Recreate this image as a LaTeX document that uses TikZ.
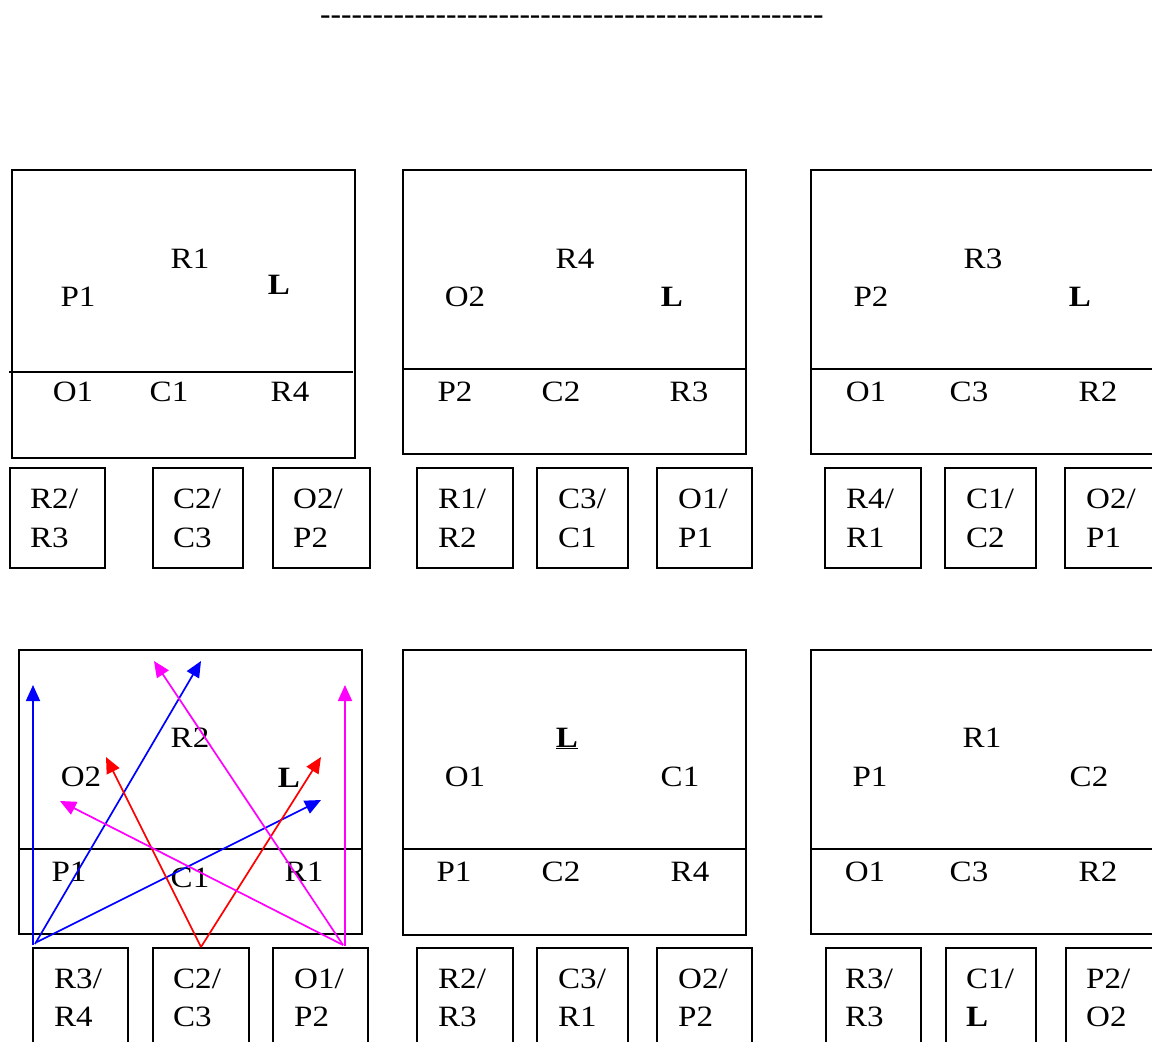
\documentclass[tikz,border=0pt]{standalone}
\usepackage{fontspec}
\setmainfont{Liberation Serif}[FakeStretch=1.12]
\newfontfamily\hyfont{Liberation Serif}
\usetikzlibrary{arrows.meta}
\definecolor{arrblue}{RGB}{0,0,255}
\definecolor{arrred}{RGB}{255,0,0}
\definecolor{arrmag}{RGB}{255,0,255}
\tikzset{
  panel/.style={draw, line width=1.7pt, anchor=north west, inner sep=0pt, outer sep=0pt},
  lbl/.style={inner sep=0pt, anchor=base, font=\fontsize{29.5}{34}\selectfont},
  slbl/.style={inner sep=0pt, anchor=base west, font=\fontsize{29.5}{34}\selectfont},
  divider/.style={line width=1.7pt},
  arr/.style={line width=1.7pt, -{Triangle[length=16pt,width=14pt]}},
}
\begin{document}
\begin{tikzpicture}[x=1pt,y=-1pt]
\useasboundingbox (0,0) rectangle (1152,1042);
\clip (0,0) rectangle (1152,1042);

% top hyphen line
\node[inner sep=0pt, anchor=base west, font=\hyfont\fontsize{31.5}{36}\selectfont] (hy) at (320,24)
 {-{}-{}-{}-{}-{}-{}-{}-{}-{}-{}-{}-{}-{}-{}-{}-{}-{}-{}-{}-{}-{}-{}-{}-{}-{}-{}-{}-{}-{}-{}-{}-{}-{}-{}-{}-{}-{}-{}-{}-{}-{}-{}-{}-{}-{}-{}-{}-};

% ===== Panel A (top left)
\node[panel, minimum width=343pt, minimum height=288pt] (pA) at (12,170) {};
\coordinate (dA1) at (9,372); \coordinate (dA2) at (353,372);
\draw[divider] (dA1) -- (dA2);
\node[lbl] (A1) at (190,268) {R1};
\node[lbl] (A2) at (78,306) {P1};
\node[lbl] (A3) at (279,294) {\textbf{L}};
\node[lbl] (A4) at (73,401) {O1};
\node[lbl] (A5) at (169,401) {C1};
\node[lbl] (A6) at (290,401) {R4};
\node[panel, minimum width=95pt, minimum height=100pt] (bA1) at (10,468) {};
\node[panel, minimum width=90pt, minimum height=100pt] (bA2) at (153,468) {};
\node[panel, minimum width=97pt, minimum height=100pt] (bA3) at (273,468) {};
\node[slbl] (tA1) at (30,508) {R2/};  \node[slbl] (tA1b) at (30,547) {R3};
\node[slbl] (tA2) at (173,508) {C2/}; \node[slbl] (tA2b) at (173,547) {C3};
\node[slbl] (tA3) at (293,508) {O2/}; \node[slbl] (tA3b) at (293,547) {P2};

% ===== Panel B (top middle)
\node[panel, minimum width=343pt, minimum height=284pt] (pB) at (403,170) {};
\coordinate (dB1) at (403,369); \coordinate (dB2) at (746,369);
\draw[divider] (dB1) -- (dB2);
\node[lbl] (B1) at (575,268) {R4};
\node[lbl] (B2) at (465,306) {O2};
\node[lbl] (B3) at (672,306) {\textbf{L}};
\node[lbl] (B4) at (455,401) {P2};
\node[lbl] (B5) at (561,401) {C2};
\node[lbl] (B6) at (689,401) {R3};
\node[panel, minimum width=96pt, minimum height=100pt] (bB1) at (417,468) {};
\node[panel, minimum width=91pt, minimum height=100pt] (bB2) at (537,468) {};
\node[panel, minimum width=95pt, minimum height=100pt] (bB3) at (657,468) {};
\node[slbl] (tB1) at (438,508) {R1/}; \node[slbl] (tB1b) at (438,547) {R2};
\node[slbl] (tB2) at (558,508) {C3/}; \node[slbl] (tB2b) at (558,547) {C1};
\node[slbl] (tB3) at (678,508) {O1/}; \node[slbl] (tB3b) at (678,547) {P1};

% ===== Panel C (top right)
\node[panel, minimum width=360pt, minimum height=284pt] (pC) at (811,170) {};
\coordinate (dC1) at (811,369); \coordinate (dC2) at (1171,369);
\draw[divider] (dC1) -- (dC2);
\node[lbl] (C1) at (983,268) {R3};
\node[lbl] (C2) at (871,306) {P2};
\node[lbl] (C3) at (1080,306) {\textbf{L}};
\node[lbl] (C4) at (866,401) {O1};
\node[lbl] (C5) at (969,401) {C3};
\node[lbl] (C6) at (1098,401) {R2};
\node[panel, minimum width=96pt, minimum height=100pt] (bC1) at (825,468) {};
\node[panel, minimum width=91pt, minimum height=100pt] (bC2) at (945,468) {};
\node[panel, minimum width=100pt, minimum height=100pt] (bC3) at (1065,468) {};
\node[slbl] (tC1) at (846,508) {R4/};  \node[slbl] (tC1b) at (846,547) {R1};
\node[slbl] (tC2) at (966,508) {C1/};  \node[slbl] (tC2b) at (966,547) {C2};
\node[slbl] (tC3) at (1086,508) {O2/}; \node[slbl] (tC3b) at (1086,547) {P1};

% ===== Panel D (bottom left)
\node[panel, minimum width=343pt, minimum height=284pt] (pD) at (19,650) {};
\coordinate (dD1) at (19,849); \coordinate (dD2) at (362,849);
\draw[divider] (dD1) -- (dD2);
\node[lbl] (D1) at (190,747) {R2};
\node[lbl] (D2) at (81,786) {O2};
\node[lbl] (D3) at (289,787) {\textbf{L}};
\node[lbl] (D4) at (69,881) {P1};
\node[lbl] (D5) at (190,887) {C1};
\node[lbl] (D6) at (304,881) {R1};
\node[panel, minimum width=95pt, minimum height=100pt] (bD1) at (33,948) {};
\node[panel, minimum width=96pt, minimum height=100pt] (bD2) at (153,948) {};
\node[panel, minimum width=95pt, minimum height=100pt] (bD3) at (273,948) {};
\node[slbl] (tD1) at (54,988) {R3/};  \node[slbl] (tD1b) at (54,1026) {R4};
\node[slbl] (tD2) at (173,988) {C2/}; \node[slbl] (tD2b) at (173,1026) {C3};
\node[slbl] (tD3) at (294,988) {O1/}; \node[slbl] (tD3b) at (294,1026) {P2};

% arrows
\coordinate (sb1) at (33,945);  \coordinate (eb1) at (33,685);
\coordinate (sb2) at (35,944);  \coordinate (eb2) at (201,661);
\coordinate (sb3) at (37,942);  \coordinate (eb3) at (321,800);
\coordinate (sr)  at (201,947); \coordinate (er1) at (106,757); \coordinate (er2) at (321,757);
\coordinate (sm1) at (345,946); \coordinate (em1) at (345,685);
\coordinate (sm2) at (343,945); \coordinate (em2) at (154,661);
\coordinate (em3) at (60,801);
\draw[arr, arrblue] (sb1) -- (eb1);
\draw[arr, arrblue] (sb2) -- (eb2);
\draw[arr, arrblue] (sb3) -- (eb3);
\draw[arr, arrred] (sr) -- (er1);
\draw[arr, arrred] (sr) -- (er2);
\draw[arr, arrmag] (sm1) -- (em1);
\draw[arr, arrmag] (sm2) -- (em2);
\draw[arr, arrmag] (sm2) -- (em3);

% ===== Panel E (bottom middle)
\node[panel, minimum width=343pt, minimum height=285pt] (pE) at (403,650) {};
\coordinate (dE1) at (403,849); \coordinate (dE2) at (746,849);
\draw[divider] (dE1) -- (dE2);
\node[lbl] (E1) at (567,747) {\underline{\textbf{L}}};
\node[lbl] (E2) at (465,786) {O1};
\node[lbl] (E3) at (680,786) {C1};
\node[lbl] (E4) at (454,881) {P1};
\node[lbl] (E5) at (561,881) {C2};
\node[lbl] (E6) at (690,881) {R4};
\node[panel, minimum width=96pt, minimum height=100pt] (bE1) at (417,948) {};
\node[panel, minimum width=91pt, minimum height=100pt] (bE2) at (537,948) {};
\node[panel, minimum width=95pt, minimum height=100pt] (bE3) at (657,948) {};
\node[slbl] (tE1) at (438,988) {R2/}; \node[slbl] (tE1b) at (438,1026) {R3};
\node[slbl] (tE2) at (558,988) {C3/}; \node[slbl] (tE2b) at (558,1026) {R1};
\node[slbl] (tE3) at (678,988) {O2/}; \node[slbl] (tE3b) at (678,1026) {P2};

% ===== Panel F (bottom right)
\node[panel, minimum width=360pt, minimum height=284pt] (pF) at (811,650) {};
\coordinate (dF1) at (811,849); \coordinate (dF2) at (1171,849);
\draw[divider] (dF1) -- (dF2);
\node[lbl] (F1) at (982,747) {R1};
\node[lbl] (F2) at (870,786) {P1};
\node[lbl] (F3) at (1089,786) {C2};
\node[lbl] (F4) at (865,881) {O1};
\node[lbl] (F5) at (969,881) {C3};
\node[lbl] (F6) at (1098,881) {R2};
\node[panel, minimum width=95pt, minimum height=100pt] (bF1) at (826,948) {};
\node[panel, minimum width=90pt, minimum height=100pt] (bF2) at (946,948) {};
\node[panel, minimum width=100pt, minimum height=100pt] (bF3) at (1066,948) {};
\node[slbl] (tF1) at (845,988) {R3/};  \node[slbl] (tF1b) at (845,1026) {R3};
\node[slbl] (tF2) at (966,988) {C1/};  \node[slbl] (tF2b) at (966,1026) {\textbf{L}};
\node[slbl] (tF3) at (1086,988) {P2/}; \node[slbl] (tF3b) at (1086,1026) {O2};
\end{tikzpicture}
\end{document}
